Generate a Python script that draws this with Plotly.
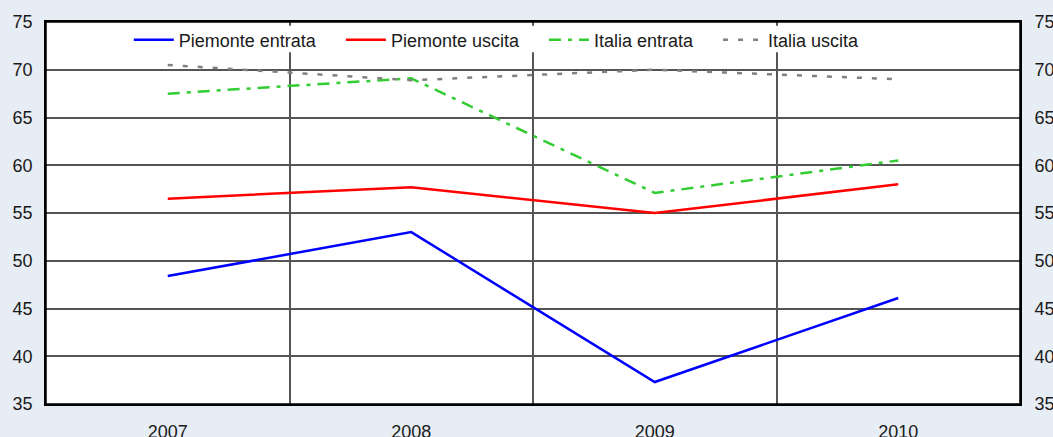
import plotly.graph_objects as go

years = ["2007", "2008", "2009", "2010"]
piemonte_entrata = [48.4, 53.0, 37.3, 46.1]
piemonte_uscita = [56.5, 57.7, 55.0, 58.0]
italia_entrata = [67.5, 69.1, 57.1, 60.5]
italia_uscita = [70.5, 68.9, 70.0, 69.0]
y_ticks = [35, 40, 45, 50, 55, 60, 65, 70, 75]
series_names = ["Piemonte entrata", "Piemonte uscita", "Italia entrata", "Italia uscita"]

FONT = "Liberation Sans, Arial, sans-serif"
BG = "#e6edf5"
PAD = "&nbsp;" * 4

fig = go.Figure()
fig.add_trace(go.Scatter(x=years, y=piemonte_entrata, name=series_names[0] + PAD, mode="lines",
                         line=dict(color="#0000ff", width=2.5)))
fig.add_trace(go.Scatter(x=years, y=piemonte_uscita, name=series_names[1] + PAD, mode="lines",
                         line=dict(color="#ff0000", width=2.5)))
fig.add_trace(go.Scatter(x=years, y=italia_entrata, name=series_names[2] + PAD, mode="lines",
                         line=dict(color="#33cc33", width=2.5, dash="12px,7px,4px,7px")))
fig.add_trace(go.Scatter(x=years, y=italia_uscita, name=series_names[3], mode="lines",
                         line=dict(color="#808080", width=2.5, dash="5px,10px")))
# invisible trace to activate the right-hand axis
fig.add_trace(go.Scatter(x=years, y=italia_uscita, yaxis="y2", mode="lines", opacity=0,
                         showlegend=False, hoverinfo="skip"))

# white box behind the legend (hides the vertical grid lines there)
fig.add_shape(type="rect", xref="paper", yref="paper", x0=0.086, x1=0.846, y0=0.921, y1=0.990,
              fillcolor="white", line=dict(width=0), layer="above")
# plot frame
fig.add_shape(type="rect", xref="paper", yref="paper", x0=0, x1=1, y0=0, y1=1,
              fillcolor="rgba(0,0,0,0)", line=dict(color="black", width=1.5), layer="above")

fig.update_layout(
    width=1053, height=437,
    margin=dict(l=46, r=33, t=22, b=33),
    paper_bgcolor=BG, plot_bgcolor="white",
    font=dict(family=FONT, size=18, color="#1a1a1a"),
    showlegend=True,
    legend=dict(orientation="h", x=0.085, y=0.953, xanchor="left", yanchor="middle",
                bgcolor="rgba(0,0,0,0)", font=dict(size=18, family=FONT),
                itemwidth=40, tracegroupgap=0),
    xaxis=dict(type="category", range=[-0.5, 3.5], tickson="boundaries", automargin=False,
               showgrid=True, gridcolor="#555555", gridwidth=2,
               ticks="outside", ticklen=24, tickcolor="rgba(0,0,0,0)",
               ticklabelstandoff=11,
               showline=True, linecolor="black", linewidth=1.5, mirror=True,
               zeroline=False),
    yaxis=dict(range=[35, 75], tickvals=y_ticks, showgrid=True, gridcolor="#555555",
               gridwidth=1.5, ticks="outside", ticklen=8, tickcolor="rgba(0,0,0,0)",
               showline=True, linecolor="black", linewidth=1.5, mirror=True,
               zeroline=False, automargin=False),
    yaxis2=dict(range=[35, 75], tickvals=y_ticks, overlaying="y", side="right",
                showgrid=False, ticks="outside", ticklen=10, tickcolor="rgba(0,0,0,0)",
                showline=False, zeroline=False, automargin=False),
)

fig.write_html("out.html", config={"displayModeBar": False},
               post_script="document.body.style.margin='0';document.body.style.overflow='hidden';")
